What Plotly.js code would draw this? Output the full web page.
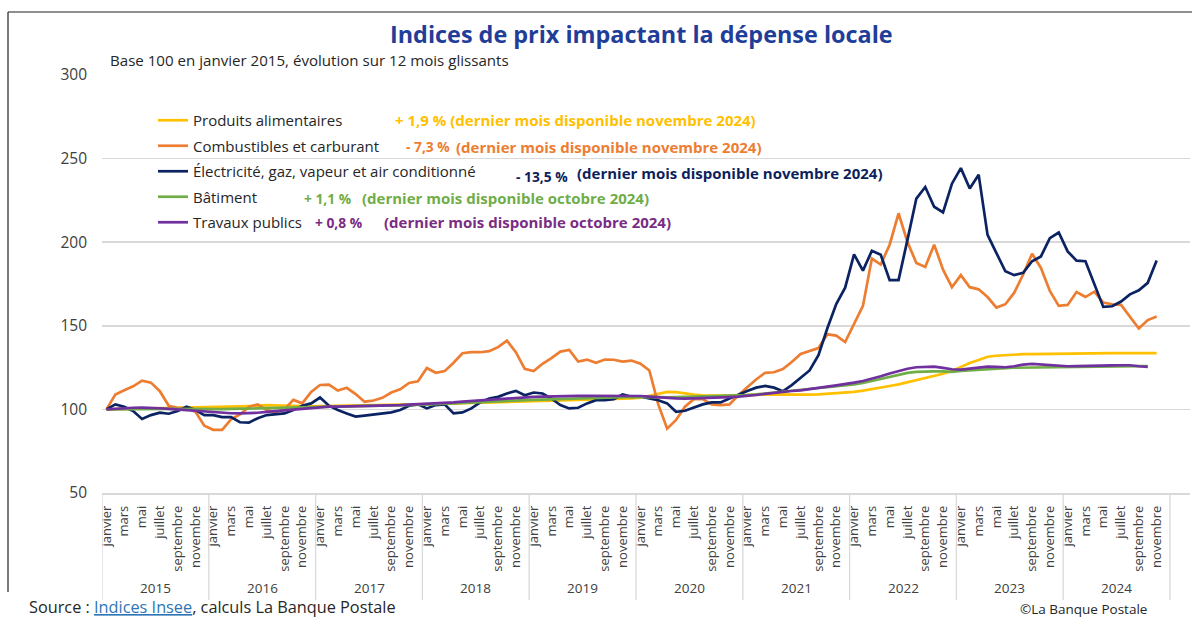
<!DOCTYPE html>
<html><head><meta charset="utf-8">
<script src="https://cdn.plot.ly/plotly-3.0.1.min.js"></script>
<style>html,body{margin:0;padding:0;background:#fff;}#chart{width:1192px;height:620px;}</style>
</head><body><div id="chart"></div>
<script>
// ---- Data ----
const years = [2015, 2016, 2017, 2018, 2019, 2020, 2021, 2022, 2023, 2024];
const monthNames = ['janvier','février','mars','avril','mai','juin','juillet','août','septembre','octobre','novembre','décembre'];
const lastMonthIndex = 118; // novembre 2024

const alimentaires = [
 100,100.1,100.2,100.3,100.4,100.4,100.5,100.6,100.7,100.8,101.0,101.2,
 101.4,101.5,101.6,101.8,102.0,102.3,102.5,102.4,102.2,102.0,101.8,101.8,
 101.9,102.0,102.1,102.1,102.1,102.2,102.3,102.3,102.4,102.5,102.6,102.7,
 102.9,103.1,103.3,103.5,103.7,103.9,104.0,104.2,104.3,104.5,104.7,104.9,
 105.0,105.1,105.3,105.4,105.5,105.6,105.8,105.9,106.0,106.2,106.4,106.6,
 107.0,108.3,109.5,110.5,110.3,109.5,108.8,108.4,108.2,108.3,108.4,108.5,
 108.8,109.0,109.2,109.2,109.0,108.8,108.7,108.8,109.0,109.3,109.6,110.0,
 110.5,111.2,112.0,113.0,114.0,115.0,116.2,117.4,118.8,120.0,121.3,123.0,
 125.5,127.7,129.5,131.5,132.1,132.5,132.8,133.0,133.1,133.2,133.3,133.3,
 133.4,133.4,133.3,133.6,133.8,133.6,133.6,133.5,133.8,133.6,133.7
];
const combustibles = [
 100,108.9,111.5,113.8,117.2,116.0,110.9,102.2,101.0,100.6,98.6,90.3,
 87.8,87.8,94.0,97.0,101.5,103.0,99.6,98.2,100.0,105.7,103.6,110.5,
 114.6,114.8,111.3,112.9,109.2,104.6,105.3,106.9,110.1,112.0,115.8,116.8,
 124.7,121.9,122.9,127.9,133.6,134.2,134.2,134.8,137.2,141.1,134.2,124.3,
 122.9,127.3,130.7,134.6,135.6,128.6,129.8,127.9,129.8,129.7,128.6,129.2,
 127.3,123.3,103.0,88.5,93.7,101.6,106.1,106.1,103.0,102.6,103.0,108.5,
 113.2,117.9,121.9,122.2,124.1,128.3,133.2,135.0,136.7,144.9,144.1,140.3,
 151.0,161.9,190.2,186.6,198.5,217.3,200.1,187.6,185.2,198.5,183.6,173.1,
 180.3,173.1,171.8,167.2,160.9,162.9,169.8,180.7,193.1,184.6,170.8,161.9,
 162.5,170.2,167.2,170.4,163.9,162.9,162.5,155.3,148.4,153.4,155.6
];
const electricite = [
 100,103.0,101.6,99.0,94.3,96.6,98.0,97.4,99.0,101.6,99.6,96.6,
 96.6,95.4,95.4,92.3,92.1,94.7,96.6,97.0,97.6,99.6,102.2,103.6,
 107.1,102.2,99.6,97.6,95.7,96.3,97.0,97.6,98.2,99.6,102.2,103.0,
 100.6,102.6,103.0,97.6,98.2,100.6,104.2,106.5,107.5,109.5,111.1,108.5,
 110.1,109.5,106.5,102.6,100.6,101.0,103.6,105.5,105.5,106.1,108.9,107.5,
 107.8,106.5,105.5,103.6,98.6,99.2,101.0,103.0,104.2,104.2,106.5,108.9,
 111.0,113.0,114.0,113.0,110.8,114.5,119.0,123.3,132.4,148.5,163.0,172.8,
 192.7,183.0,194.9,192.5,177.3,177.3,201.4,226.1,233.0,221.2,217.8,235.0,
 244.3,232.1,240.4,204.4,193.5,182.6,180.3,181.7,188.6,191.5,202.4,205.8,
 194.5,189.0,188.6,174.7,161.3,161.7,164.5,168.8,171.2,175.7,189.0
];
const batiment = [
 100,100.1,100.2,100.3,100.3,100.3,100.3,100.3,100.3,100.2,100.2,100.2,
 100.2,100.2,100.3,100.4,100.5,100.6,100.7,100.8,100.9,101.0,101.1,101.2,
 101.3,101.4,101.5,101.6,101.7,101.8,101.9,102.0,102.1,102.3,102.5,102.7,
 102.9,103.1,103.3,103.5,103.7,103.9,104.1,104.4,104.7,105.0,105.3,105.6,
 105.8,106.0,106.2,106.4,106.6,106.8,107.0,107.1,107.2,107.3,107.4,107.5,
 107.6,107.6,107.4,107.2,107.3,107.5,107.7,107.9,108.0,108.1,108.2,108.3,
 108.5,109.0,109.6,110.2,110.8,111.3,111.8,112.3,112.8,113.3,113.8,114.3,
 115.0,115.8,117.0,118.3,119.6,120.8,121.8,122.4,122.7,122.8,122.7,122.5,
 123.0,123.4,123.8,124.2,124.5,124.7,124.9,125.0,125.1,125.2,125.3,125.4,
 125.5,125.5,125.6,125.6,125.7,125.7,125.8,125.8,125.9,125.9
];
const travauxPublics = [
 100,100.4,100.7,101.0,101.1,101.0,100.7,100.3,99.9,99.5,99.1,98.7,
 98.3,98.0,97.7,97.6,97.7,98.0,98.5,99.0,99.5,100.0,100.5,101.0,
 101.4,101.6,101.7,101.8,101.8,101.8,101.9,102.0,102.2,102.5,102.8,103.0,
 103.3,103.6,103.9,104.2,104.6,105.0,105.4,105.8,106.2,106.6,107.0,107.3,
 107.5,107.7,107.9,108.0,108.1,108.1,108.1,108.1,108.0,108.0,108.0,108.1,
 108.0,107.6,107.2,106.8,106.6,106.5,106.6,106.8,107.0,107.2,107.4,107.6,
 107.9,108.6,109.3,110.0,110.5,111.0,111.4,112.0,112.8,113.6,114.4,115.0,
 116.0,117.0,118.3,119.8,121.5,123.0,124.3,125.2,125.6,125.6,124.8,124.0,
 123.8,124.5,125.2,125.6,125.4,125.2,125.8,126.8,127.2,126.8,126.3,126.0,
 125.8,125.9,126.1,126.3,126.3,126.3,126.4,126.4,125.8,125.4
];

const seriesNames = ['Produits alimentaires','Combustibles et carburant','Électricité, gaz, vapeur et air conditionné','Bâtiment','Travaux publics'];
const seriesColors = ['#FFC000','#ED7D31','#0B2362','#70AD47','#7030A0'];
const seriesData = [alimentaires, combustibles, electricite, batiment, travauxPublics];
const changeLabels = ['+ 1,9 %','- 7,3 %','- 13,5 %','+ 1,1 %','+ 0,8 %'];
const lastMonthLabels = ['(dernier mois disponible novembre 2024)','(dernier mois disponible novembre 2024)','(dernier mois disponible novembre 2024)','(dernier mois disponible octobre 2024)','(dernier mois disponible octobre 2024)'];
const textColors = ['#FFC000','#ED7D31','#0D1F5C','#70AD47','#7B2C84'];

// ---- Categories ----
const cats = [], tickVals = [], tickText = [];
years.forEach(y => monthNames.forEach((m, k) => {
  if (cats.length > lastMonthIndex) return;
  const c = m + ' ' + y;
  cats.push(c);
  if (k % 2 === 0) { tickVals.push(c); tickText.push(m); }
}));

// ---- Layout geometry (pixels) ----
const W = 1192, H = 620;
const L = 102, R = 1190, T = 75, B = 493;
const px = x => (x - L) / (R - L);
const py = y => (B - y) / (B - T);
const FONT = 'Open Sans, Noto Sans, sans-serif';
const TXT = '#404040';

const traces = seriesData.map((d, i) => ({
  type: 'scatter', mode: 'lines', name: seriesNames[i],
  x: cats.slice(0, d.length), y: d,
  line: {color: seriesColors[i], width: 2.7},
  legendgroup: 'g' + i, hoverinfo: 'x+y+name'
}));

const annotations = [];
annotations.push({xref:'paper', yref:'paper', x: px(641), y: py(34), text:'<b>Indices de prix impactant la dépense locale</b>', showarrow:false, xanchor:'center', yanchor:'middle', font:{family:FONT, size:23.4, color:'#1F3D99'}});
annotations.push({xref:'paper', yref:'paper', x: px(108), y: py(60), text:'Base 100 en janvier 2015, évolution sur 12 mois glissants', showarrow:false, xanchor:'left', yanchor:'middle', font:{family:FONT, size:15.1, color:'#262626'}});

// change annotations
const chgPos = [[393,120],[404,146],[514,176],[302,198],[313,222]];
const lblPos = [[null,120],[454,147],[575,173],[360,198],[382,222]];
changeLabels.forEach((c, i) => {
  const bold = {family:FONT, size:15, color:textColors[i]};
  const boldSmall = {family:FONT, size:13.8, color:textColors[i]};
  if (lblPos[i][0] === null) {
    annotations.push({xref:'paper', yref:'paper', x: px(chgPos[i][0]), y: py(chgPos[i][1]), text:'<b>' + c + ' ' + lastMonthLabels[i] + '</b>', showarrow:false, xanchor:'left', yanchor:'middle', font:bold});
  } else {
    annotations.push({xref:'paper', yref:'paper', x: px(chgPos[i][0]), y: py(chgPos[i][1]), text:'<b>' + c + '</b>', showarrow:false, xanchor:'left', yanchor:'middle', font:boldSmall});
    annotations.push({xref:'paper', yref:'paper', x: px(lblPos[i][0]), y: py(lblPos[i][1]), text:'<b>' + lastMonthLabels[i] + '</b>', showarrow:false, xanchor:'left', yanchor:'middle', font:bold});
  }
});

// year labels
years.forEach((y, k) => {
  annotations.push({xref:'x', yref:'paper', x: 12*k + 5.5, y: py(588), text: String(y), showarrow:false, xanchor:'center', yanchor:'middle', font:{family:FONT, size:13.5, color:TXT}});
});

// source
annotations.push({xref:'paper', yref:'paper', x: px(27), y: py(607), text:'Source : <span style="color:#2E75B6;text-decoration:underline">Indices Insee</span>, calculs La Banque Postale', showarrow:false, xanchor:'left', yanchor:'middle', font:{family:FONT, size:16.3, color:'#262626'}});
annotations.push({xref:'paper', yref:'paper', x: px(1018), y: py(609), text:'©La Banque Postale', showarrow:false, xanchor:'left', yanchor:'middle', font:{family:FONT, size:13.5, color:'#262626'}});

const shapes = [];
// year dividers
for (let k = 0; k <= years.length; k++) {
  shapes.push({type:'line', xref:'x', yref:'paper', x0: 12*k - 0.5, x1: 12*k - 0.5, y0: 0, y1: py(600), line:{color:'#D9D9D9', width:1.3}});
}
// frame (top and left)
shapes.push({type:'line', xref:'paper', yref:'paper', x0: px(8), x1: px(1192), y0: py(12), y1: py(12), line:{color:'#222', width:1.2}});
shapes.push({type:'line', xref:'paper', yref:'paper', x0: px(8), x1: px(8), y0: py(12), y1: py(592), line:{color:'#222', width:1.2}});

const layout = {
  width: W, height: H,
  margin: {l: L, r: W - R, t: T, b: H - B, autoexpand:false},
  paper_bgcolor: '#fff', plot_bgcolor: '#fff',
  font: {family: FONT, color: TXT},
  showlegend: true,
  legend: {x: px(153), y: py(104), xanchor:'left', yanchor:'top', bgcolor:'rgba(0,0,0,0)',
           font:{family:FONT, size:15, color:'#262626'}, tracegroupgap: 3, itemwidth: 30, traceorder:'grouped'},
  xaxis: {type:'category', range:[-0.5, -0.5 + (R - L)/8.9], tickvals: tickVals, ticktext: tickText,
          tickangle: -90, tickfont:{family:FONT, size:13, color:TXT}, ticks:'', showgrid:false,
          showline:true, linecolor:'#D9D9D9', linewidth:1.5, zeroline:false, automargin:false, ticklabelstandoff: 6, fixedrange:true},
  yaxis: {range:[50, 300], dtick: 50, tick0: 50, showgrid:true, gridcolor:'#D9D9D9', gridwidth:1.5,
          zeroline:false, showline:false, ticks:'', tickfont:{family:FONT, size:15.5, color:TXT}, automargin:false, ticklabelstandoff: 14, fixedrange:true},
  annotations, shapes
};

Plotly.newPlot('chart', traces, layout, {displayModeBar:false, staticPlot:true});
</script>
</body></html>
